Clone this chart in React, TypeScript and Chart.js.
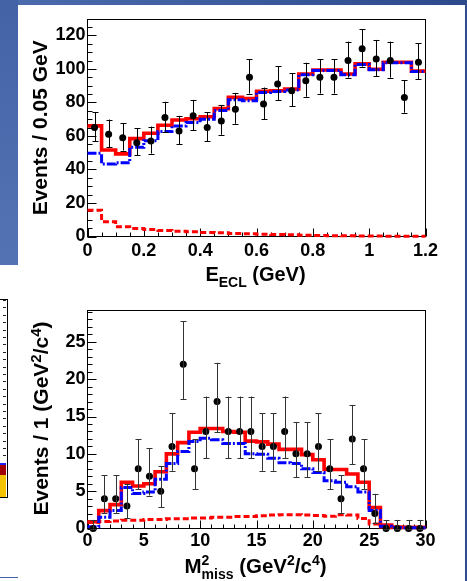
import React, { useEffect, useRef } from 'react';
import { Chart, registerables } from 'chart.js';

Chart.register(...registerables);

const FONT = "'Liberation Sans', Arial, Helvetica, sans-serif";

// ---------- Top plot: E_ECL ----------
const eclBinWidth = 0.05;
const eclData = [65, 61, 59, 56, 57, 71, 63, 72, 65, 69, 76, 95, 79, 91, 87, 93, 95, 95, 105, 112, 106, 105, 83, 104];
const eclErrLo = [8.1, 7.8, 7.7, 7.5, 7.5, 8.4, 7.9, 8.5, 8.1, 8.3, 8.7, 9.7, 8.9, 9.5, 9.3, 9.6, 9.7, 9.7, 10.2, 10.6, 10.3, 10.2, 9.1, 10.2];
const eclErrHi = [9.1, 8.8, 8.7, 8.5, 8.6, 9.4, 9.0, 9.5, 9.1, 9.3, 9.7, 10.8, 9.9, 10.6, 10.4, 10.7, 10.8, 10.8, 11.3, 11.6, 11.3, 11.3, 10.1, 11.2];
const eclTotal = [66, 51.6, 49.3, 58.4, 61.6, 66.4, 69.5, 70.3, 71.5, 76.3, 83, 82.3, 86.7, 87, 88, 97, 99.4, 99.4, 97, 103, 99.8, 104, 104, 98.7];
const eclSignal = [49.7, 43.3, 44, 53.2, 57.2, 62.6, 66, 68, 70, 75.2, 81.6, 81, 86, 86.5, 87.5, 96.5, 99, 99, 96.5, 102.7, 99.5, 103.7, 103.7, 98.4];
const eclBkg = [15.7, 8.8, 5.8, 4.8, 4.2, 3.6, 3.2, 2.8, 2.4, 2.2, 1.8, 1.6, 1.4, 1.2, 1.0, 0.8, 0.6, 0.5, 0.4, 0.3, 0.3, 0.2, 0.2, 0.2];

// ---------- Bottom plot: M^2_miss ----------
const missBinWidth = 1;
const missData = [0, 4, 4, 3, 8, 7, 5, 11, 22, 8, 13, 17, 13, 13, 13, 11, 11, 13, 10, 10, 11, 8, 4, 12, 8, 2, 0, 0, 0, 0];
const missErrLo = [0, 1.91, 1.91, 1.63, 2.77, 2.58, 2.16, 3.27, 4.65, 2.77, 3.56, 4.08, 3.56, 3.56, 3.56, 3.27, 3.27, 3.56, 3.11, 3.11, 3.27, 2.77, 1.91, 3.41, 2.77, 1.29, 0, 0, 0, 0];
const missErrHi = [1.15, 3.16, 3.16, 2.92, 3.94, 3.77, 3.38, 4.41, 5.76, 3.94, 4.68, 5.2, 4.68, 4.68, 4.68, 4.41, 4.41, 4.68, 4.26, 4.26, 4.41, 3.94, 3.16, 4.55, 3.94, 2.64, 1.15, 1.15, 1.15, 1.15];
const missTotal = [0.9, 2.4, 3.2, 6.2, 5.7, 6.0, 7.6, 10.0, 11.5, 12.9, 13.4, 13.4, 13.0, 12.9, 11.7, 11.6, 11.3, 10.6, 10.6, 9.9, 9.2, 7.9, 7.9, 7.3, 6.2, 2.8, 0.45, 0.2, 0.15, 0.15];
const missSignal = [0.25, 1.5, 2.4, 5.5, 4.7, 4.9, 6.6, 8.7, 10.3, 11.65, 12.1, 11.9, 11.4, 11.4, 10.0, 9.95, 9.4, 8.8, 8.7, 8.0, 7.5, 6.4, 6.2, 5.6, 4.9, 2.4, 0.3, 0.15, 0.1, 0.1];
const missBkg = [0.8, 0.95, 1.0, 1.1, 1.1, 1.2, 1.2, 1.3, 1.3, 1.4, 1.4, 1.5, 1.5, 1.6, 1.6, 1.7, 1.8, 1.85, 1.85, 1.8, 1.75, 1.65, 1.85, 1.8, 1.35, 0.6, 0.2, 0.1, 0.1, 0.1];

type Part = { t: string; size: number; dy: number };
type Seg = Part[];

function drawRich(ctx: CanvasRenderingContext2D, segs: Seg[], x: number, y: number, rot: number) {
  ctx.save();
  ctx.translate(x, y);
  ctx.rotate(rot);
  ctx.textAlign = 'left';
  ctx.textBaseline = 'alphabetic';
  ctx.fillStyle = '#000';
  const widths = segs.map((seg) =>
    Math.max(
      ...seg.map((p) => {
        ctx.font = `bold ${p.size}px ${FONT}`;
        return ctx.measureText(p.t).width;
      })
    )
  );
  const total = widths.reduce((a, b) => a + b, 0);
  let cx = -total / 2;
  segs.forEach((seg, i) => {
    seg.forEach((p) => {
      ctx.font = `bold ${p.size}px ${FONT}`;
      ctx.fillText(p.t, cx, p.dy);
    });
    cx += widths[i];
  });
  ctx.restore();
}

const histPoints = (vals: number[], w: number) => [
  ...vals.map((v, i) => ({ x: i * w, y: v })),
  { x: vals.length * w, y: vals[vals.length - 1] },
];
const centerPoints = (vals: number[], w: number) => vals.map((v, i) => ({ x: (i + 0.5) * w, y: v }));

type Spec = {
  height: number;
  areaTop: number;
  areaBottom: number;
  areaLeft: number;
  areaRight: number;
  w: number;
  data: number[];
  errLo: number[];
  errHi: number[];
  total: number[];
  signal: number[];
  bkg: number[];
  xMax: number;
  xStep: number;
  xMinor: number;
  yMax: number;
  yStep: number;
  yMinor: number;
  xPad: number;
  errColor: string;
  xTitle: Seg[];
  xTitlePos: [number, number];
  yTitle: Seg[];
  yTitlePos: [number, number];
};

function makePlugins(s: Spec) {
  const frame = {
    id: 'rootFrame',
    beforeDatasetsDraw(chart: any) {
      const { ctx, chartArea: a, scales } = chart;
      const x = scales.x;
      const y = scales.y;
      ctx.save();
      ctx.strokeStyle = '#000';
      ctx.lineWidth = 1;
      ctx.strokeRect(a.left, a.top, a.right - a.left, a.bottom - a.top);
      ctx.beginPath();
      const nx = Math.round(s.xMax / s.xMinor);
      const rx = Math.round(s.xStep / s.xMinor);
      for (let i = 0; i <= nx; i++) {
        const px = Math.round(x.getPixelForValue(i * s.xMinor)) + 0.5;
        const len = i % rx === 0 ? 8 : 4;
        ctx.moveTo(px, a.bottom);
        ctx.lineTo(px, a.bottom - len);
      }
      const ny = Math.floor(s.yMax / s.yMinor + 1e-6);
      const ry = Math.round(s.yStep / s.yMinor);
      for (let i = 0; i <= ny; i++) {
        const py = Math.round(y.getPixelForValue(i * s.yMinor)) + 0.5;
        const len = i % ry === 0 ? 9 : 5;
        ctx.moveTo(a.left, py);
        ctx.lineTo(a.left + len, py);
      }
      ctx.stroke();
      ctx.restore();
    },
  };
  const errors = {
    id: 'rootErrors',
    afterDatasetsDraw(chart: any) {
      const { ctx, scales } = chart;
      const x = scales.x;
      const y = scales.y;
      ctx.save();
      ctx.strokeStyle = s.errColor;
      ctx.lineWidth = 1;
      ctx.beginPath();
      s.data.forEach((v, i) => {
        const px = Math.round(x.getPixelForValue((i + 0.5) * s.w)) + 0.5;
        const pTop = y.getPixelForValue(v + s.errHi[i]);
        const pBot = y.getPixelForValue(Math.max(0, v - s.errLo[i]));
        ctx.moveTo(px, pBot);
        ctx.lineTo(px, pTop);
        const ct = Math.round(pTop) + 0.5;
        const cb = Math.round(pBot) + 0.5;
        ctx.moveTo(px - 3, ct);
        ctx.lineTo(px + 3, ct);
        ctx.moveTo(px - 3, cb);
        ctx.lineTo(px + 3, cb);
      });
      ctx.stroke();
      ctx.restore();
    },
  };
  const titles = {
    id: 'rootTitles',
    afterDraw(chart: any) {
      const { ctx } = chart;
      drawRich(ctx, s.xTitle, s.xTitlePos[0], s.xTitlePos[1], 0);
      drawRich(ctx, s.yTitle, s.yTitlePos[0], s.yTitlePos[1], -Math.PI / 2);
    },
  };
  return [frame, errors, titles];
}

const fmt = (v: number) => String(Math.round(v * 1000) / 1000);

function buildConfig(s: Spec): any {
  const tickFont = { family: FONT, size: 18, weight: 'bold' as const };
  return {
    type: 'line',
    data: {
      datasets: [
        {
          label: 'Data',
          data: centerPoints(s.data, s.w),
          showLine: false,
          pointRadius: 3.5,
          pointHoverRadius: 3.5,
          pointBackgroundColor: '#000',
          pointBorderWidth: 0,
          borderWidth: 0,
          clip: false,
        },
        {
          label: 'Signal',
          data: histPoints(s.signal, s.w),
          stepped: 'before',
          borderColor: '#0000ff',
          borderWidth: 3,
          borderDash: [9, 2, 2, 2],
          pointRadius: 0,
          fill: false,
          clip: false,
        },
        {
          label: 'Total',
          data: histPoints(s.total, s.w),
          stepped: 'before',
          borderColor: '#ff0000',
          borderWidth: 3.6,
          pointRadius: 0,
          fill: false,
          clip: false,
        },
        {
          label: 'Background',
          data: histPoints(s.bkg, s.w),
          stepped: 'before',
          borderColor: '#ff0000',
          borderWidth: 3,
          borderDash: [6, 3],
          pointRadius: 0,
          fill: false,
          clip: false,
        },
      ],
    },
    options: {
      animation: false,
      responsive: false,
      events: [],
      layout: { padding: { left: 0, top: s.areaTop, right: 467 - s.areaRight, bottom: 0 } },
      plugins: { legend: { display: false }, tooltip: { enabled: false } },
      scales: {
        x: {
          type: 'linear',
          min: 0,
          max: s.xMax,
          grid: { display: false, drawTicks: false },
          border: { display: false },
          ticks: {
            stepSize: s.xStep,
            font: tickFont,
            color: '#000',
            padding: s.xPad,
            maxRotation: 0,
            autoSkip: false,
            includeBounds: false,
            callback: (v: any) => fmt(Number(v)),
          },
          afterFit: (sc: any) => {
            sc.height = s.height - s.areaBottom;
          },
        },
        y: {
          type: 'linear',
          min: 0,
          max: s.yMax,
          grid: { display: false, drawTicks: false },
          border: { display: false },
          ticks: {
            stepSize: s.yStep,
            font: tickFont,
            color: '#000',
            padding: 2,
            autoSkip: false,
            includeBounds: false,
            callback: (v: any) => fmt(Number(v)),
          },
          afterFit: (sc: any) => {
            sc.width = s.areaLeft;
          },
        },
      },
    },
    plugins: makePlugins(s),
  };
}

const topSpec: Spec = {
  height: 290,
  areaTop: 19.5,
  areaBottom: 236.5,
  areaLeft: 87.5,
  areaRight: 425.5,
  w: eclBinWidth,
  data: eclData,
  errLo: eclErrLo,
  errHi: eclErrHi,
  total: eclTotal,
  signal: eclSignal,
  bkg: eclBkg,
  xMax: 1.2,
  xStep: 0.2,
  xMinor: 0.05,
  yMax: 129.5,
  yStep: 20,
  yMinor: 5,
  xPad: 4,
  errColor: '#000',
  xTitle: [[{ t: 'E', size: 20, dy: 0 }], [{ t: 'ECL', size: 14, dy: 6 }], [{ t: ' (GeV)', size: 20, dy: 0 }]],
  xTitlePos: [255.5, 280.7],
  yTitle: [[{ t: 'Events / 0.05 GeV', size: 21, dy: 0 }]],
  yTitlePos: [46.8, 127.8],
};

const bottomSpec: Spec = {
  height: 291,
  areaTop: 20.5,
  areaBottom: 238.5,
  areaLeft: 87.5,
  areaRight: 425.5,
  w: missBinWidth,
  data: missData,
  errLo: missErrLo,
  errHi: missErrHi,
  total: missTotal,
  signal: missSignal,
  bkg: missBkg,
  xMax: 30,
  xStep: 5,
  xMinor: 1,
  yMax: 29.2,
  yStep: 5,
  yMinor: 1,
  xPad: 2,
  errColor: '#333',
  xTitle: [
    [{ t: 'M', size: 20.5, dy: 0 }],
    [
      { t: '2', size: 14, dy: -7.5 },
      { t: 'miss', size: 14, dy: 6 },
    ],
    [{ t: ' (GeV', size: 20.5, dy: 0 }],
    [{ t: '2', size: 14, dy: -7.5 }],
    [{ t: '/c', size: 20.5, dy: 0 }],
    [{ t: '4', size: 14, dy: -7.5 }],
    [{ t: ')', size: 20.5, dy: 0 }],
  ],
  xTitlePos: [255.5, 282.7],
  yTitle: [
    [{ t: 'Events / 1 (GeV', size: 21, dy: 0 }],
    [{ t: '2', size: 15, dy: -7.5 }],
    [{ t: '/c', size: 21, dy: 0 }],
    [{ t: '4', size: 15, dy: -7.5 }],
    [{ t: ')', size: 21, dy: 0 }],
  ],
  yTitlePos: [48, 128.5],
};

function HistChart({ spec, top }: { spec: Spec; top: number }) {
  const ref = useRef<HTMLCanvasElement>(null);
  useEffect(() => {
    const chart = new Chart(ref.current as HTMLCanvasElement, buildConfig(spec));
    return () => chart.destroy();
  }, [spec]);
  return (
    <canvas
      ref={ref}
      width={467}
      height={spec.height}
      style={{ position: 'absolute', left: 0, top, width: 467, height: spec.height }}
    />
  );
}

export default function App() {
  return (
    <div style={{ position: 'absolute', left: 0, top: 0, width: 467, height: 581, background: '#fff', overflow: 'hidden' }}>
      <div style={{ position: 'absolute', left: 0, top: 0, width: 467, height: 5, background: 'linear-gradient(to right, #4d6cae, #2c4a8b)' }} />
      <div style={{ position: 'absolute', left: 0, top: 0, width: 18, height: 265, background: 'linear-gradient(to bottom, #4463a7, #5473b4)' }} />
      <div style={{ position: 'absolute', left: 465, top: 0, width: 2, height: 581, background: '#2f4c8c' }} />
      {/* partial neighbouring plot at the left edge */}
      <div style={{ position: 'absolute', left: -2, top: 299, width: 8, height: 197, border: '1px solid #000', background: '#fff' }} />
      <div
        style={{
          position: 'absolute',
          left: 3,
          top: 300,
          width: 3,
          height: 196,
          background: 'repeating-linear-gradient(to bottom, #222 0px, #222 1px, transparent 1px, transparent 7.4px)',
        }}
      />
      <div style={{ position: 'absolute', left: 0, top: 464, width: 6, height: 11, background: '#a00000' }} />
      <div style={{ position: 'absolute', left: 0, top: 475, width: 6, height: 22, background: '#f4c300' }} />
      <div style={{ position: 'absolute', left: 0, top: 463, width: 6, height: 1.5, background: '#2020ff' }} />
      <div style={{ position: 'absolute', left: 0, top: 577, width: 18, height: 1, background: '#4263a8' }} />
      <HistChart spec={topSpec} top={0} />
      <HistChart spec={bottomSpec} top={290} />
    </div>
  );
}
